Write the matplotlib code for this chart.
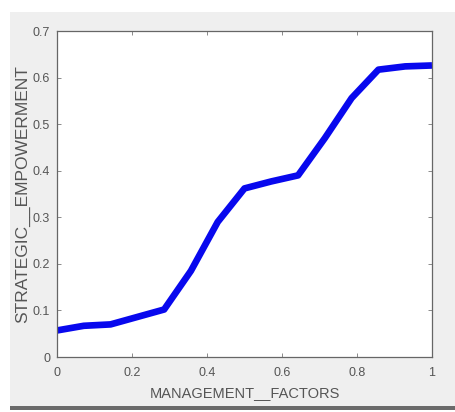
import matplotlib
matplotlib.use('Agg')
import matplotlib.pyplot as plt
from matplotlib.patches import Rectangle

# data (x in steps of 1/14)
mgmt = [0, 1/14, 2/14, 3/14, 4/14, 5/14, 6/14, 7/14, 8/14, 9/14, 10/14, 11/14, 12/14, 13/14, 1]
empow = [0.057, 0.067, 0.070, 0.086, 0.102, 0.185, 0.290, 0.362, 0.377, 0.390,
         0.470, 0.556, 0.617, 0.624, 0.626]
xticks = [0, 0.2, 0.4, 0.6, 0.8, 1]
xtick_labels = ['0', '0.2', '0.4', '0.6', '0.8', '1']
yticks = [0, 0.1, 0.2, 0.3, 0.4, 0.5, 0.6, 0.7]
ytick_labels = ['0', '0.1', '0.2', '0.3', '0.4', '0.5', '0.6', '0.7']

plt.rcParams['font.family'] = ['Liberation Sans', 'DejaVu Sans']
TXT = '#555555'

fig = plt.figure(figsize=(4.56, 4.12), dpi=100, facecolor='white')
# matlab-like grey window background (screenshot frame)
fig.patches.append(Rectangle((10/456, 1-406/412), 446/456, 394/412, transform=fig.transFigure,
                             fc='#efefef', ec='none', zorder=-10))
fig.patches.append(Rectangle((10/456, 1-410/412), 446/456, 4/412, transform=fig.transFigure,
                             fc='#6a6a6a', ec='none', zorder=-10))

ax = fig.add_axes([57/456, 1-357/412, 375/456, 326/412])
ax.set_facecolor('white')
ax.plot(mgmt, empow, color='#0808ee', lw=4.8, solid_capstyle='butt', solid_joinstyle='round')
ax.set_xlim(0, 1); ax.set_ylim(0, 0.7)
ax.set_xticks(xticks, xtick_labels)
ax.set_yticks(yticks, ytick_labels)
ax.tick_params(direction='in', top=True, right=True, length=3, width=0.6,
               colors='#777777', labelcolor=TXT, labelsize=9)
ax.tick_params(axis='x', pad=7)
ax.tick_params(axis='y', pad=5)
for s in ax.spines.values():
    s.set_color('#666666'); s.set_linewidth(0.9)
ax.set_xlabel('MANAGEMENT__FACTORS', fontsize=10.5, color=TXT, labelpad=5)
ax.set_ylabel('STRATEGIC__EMPOWERMENT', fontsize=12.5, color=TXT, labelpad=2)

plt.savefig('out.png', dpi=100, facecolor=fig.get_facecolor())
